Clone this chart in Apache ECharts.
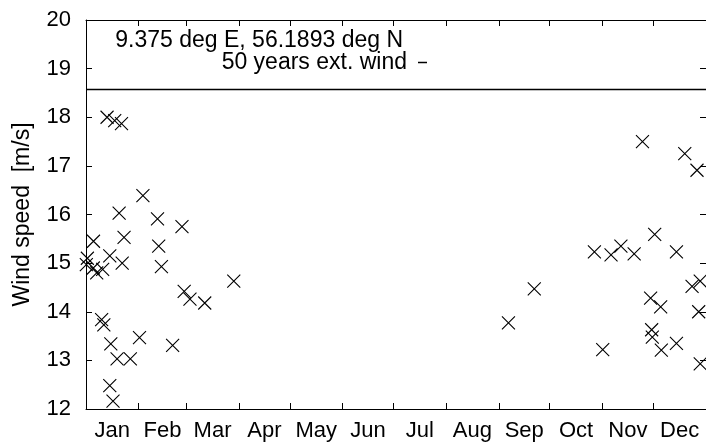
<!DOCTYPE html>
<html>
<head>
<meta charset="utf-8">
<script src="https://cdn.jsdelivr.net/npm/echarts@6/dist/echarts.min.js"></script>
<style>
  html, body { margin: 0; padding: 0; background: #fff; }
  #chart { width: 706px; height: 444px; }
</style>
</head>
<body>
<div id="chart"></div>
<script>
// month names and where they sit on a day-of-year axis
const months = ["Jan", "Feb", "Mar", "Apr", "May", "Jun", "Jul", "Aug", "Sep", "Oct", "Nov", "Dec"];
const monthStarts = [31, 59, 90, 120, 151, 181, 212, 243, 273, 304, 334];
const monthMids = [15.5, 45, 74.5, 105, 135.5, 166, 196.5, 227.5, 258, 288.5, 319, 349.5];

// storm events: day of year and wind speed [m/s]
const eventDays = [
  12.4, 16.9, 20.9, 33.5, 19.5, 42.1, 56.5, 22.4, 4.4, 42.8,
  14.0, 0.8, 0.2, 4.3, 6.3, 9.8, 21.3, 44.4, 87.0, 57.8,
  61.2, 69.9, 9.2, 10.5, 31.5, 14.6, 51.0, 18.3, 26.1, 14.0, 15.9,
  248.7, 263.9, 299.3, 304.2, 309.1, 314.9, 322.7, 327.6, 332.4, 333.0,
  333.4, 334.8, 338.3, 338.7, 347.6, 347.6, 352.5, 356.8, 359.7, 360.7,
  361.6, 361.6
];
const eventSpeeds = [
  18.00, 17.93, 17.87, 16.39, 16.03, 15.91, 15.75, 15.53, 15.45, 15.35,
  15.15, 15.10, 14.97, 14.90, 14.80, 14.87, 15.00, 14.93, 14.63, 14.42,
  14.26, 14.18, 13.84, 13.73, 13.47, 13.34, 13.31, 13.03, 13.03, 12.48, 12.16,
  13.77, 14.47, 15.23, 13.22, 15.17, 15.35, 15.19, 17.50, 14.28, 13.63,
  13.48, 15.59, 14.10, 13.21, 13.35, 15.23, 17.25, 14.52, 16.91, 14.00,
  14.63, 12.93
];
const extWind = 18.57;
const locationTitle = "9.375 deg E, 56.1893 deg N";
const extWindName = "50 years ext. wind";

const font = "Liberation Sans, Arial, Helvetica, sans-serif";
const fs = 22;
const keyFs = 23;

const chart = echarts.init(document.getElementById("chart"));

const points = eventDays.map((d, i) => [d, eventSpeeds[i]]);

const xBase = {
  type: "value",
  min: 0,
  max: 365,
  splitLine: { show: false },
  axisLine: { show: true, onZero: false, lineStyle: { color: "#000", width: 1 } },
  axisTick: { show: true, inside: true, length: 6, customValues: monthStarts, lineStyle: { color: "#000" } }
};
const yBase = {
  type: "value",
  min: 12,
  max: 20,
  interval: 1,
  splitLine: { show: false },
  axisLine: { show: true, onZero: false, lineStyle: { color: "#000", width: 1 } },
  axisTick: { show: true, inside: true, length: 6, lineStyle: { color: "#000" } }
};

const option = {
  animation: false,
  backgroundColor: "#fff",
  textStyle: { fontFamily: font },
  grid: { left: 86, top: 20, width: 625, height: 389 },
  title: {
    text: locationTitle,
    right: 303,
    top: 29,
    padding: 0,
    textStyle: { fontFamily: font, fontSize: keyFs, fontWeight: "normal", color: "#000" }
  },
  legend: {
    data: [extWindName],
    right: 279,
    top: 51,
    padding: 0,
    align: "right",
    icon: "rect",
    itemWidth: 9,
    itemHeight: 1.5,
    textStyle: { fontFamily: font, fontSize: keyFs, color: "#000", padding: [0, 6, 0, 0] }
  },
  xAxis: [
    Object.assign({}, xBase, {
      position: "bottom",
      axisLabel: {
        show: true,
        customValues: monthMids,
        margin: 11,
        fontFamily: font,
        fontSize: fs,
        color: "#000",
        formatter: (v) => months[monthMids.indexOf(v)]
      }
    }),
    Object.assign({}, xBase, { position: "top", axisLabel: { show: false } })
  ],
  yAxis: [
    Object.assign({}, yBase, {
      position: "left",
      name: "Wind speed  [m/s]",
      nameLocation: "middle",
      nameGap: 52,
      nameTextStyle: { fontFamily: font, fontSize: keyFs, color: "#000" },
      axisLabel: { margin: 15, fontFamily: font, fontSize: fs, color: "#000" }
    }),
    Object.assign({}, yBase, { position: "right", axisLabel: { show: false } })
  ],
  series: [
    {
      name: "events",
      type: "scatter",
      data: points,
      symbol: "path://M0,0L10,10M10,0L0,10",
      symbolSize: 13,
      itemStyle: { color: "transparent", borderColor: "#000", borderWidth: 1.1, opacity: 1 },
      emphasis: { disabled: true }
    },
    {
      name: extWindName,
      type: "line",
      data: [[0, extWind], [365, extWind]],
      symbol: "none",
      lineStyle: { color: "#000", width: 1.5 },
      itemStyle: { color: "#000" },
      emphasis: { disabled: true }
    }
  ]
};

chart.setOption(option);
</script>
</body>
</html>
